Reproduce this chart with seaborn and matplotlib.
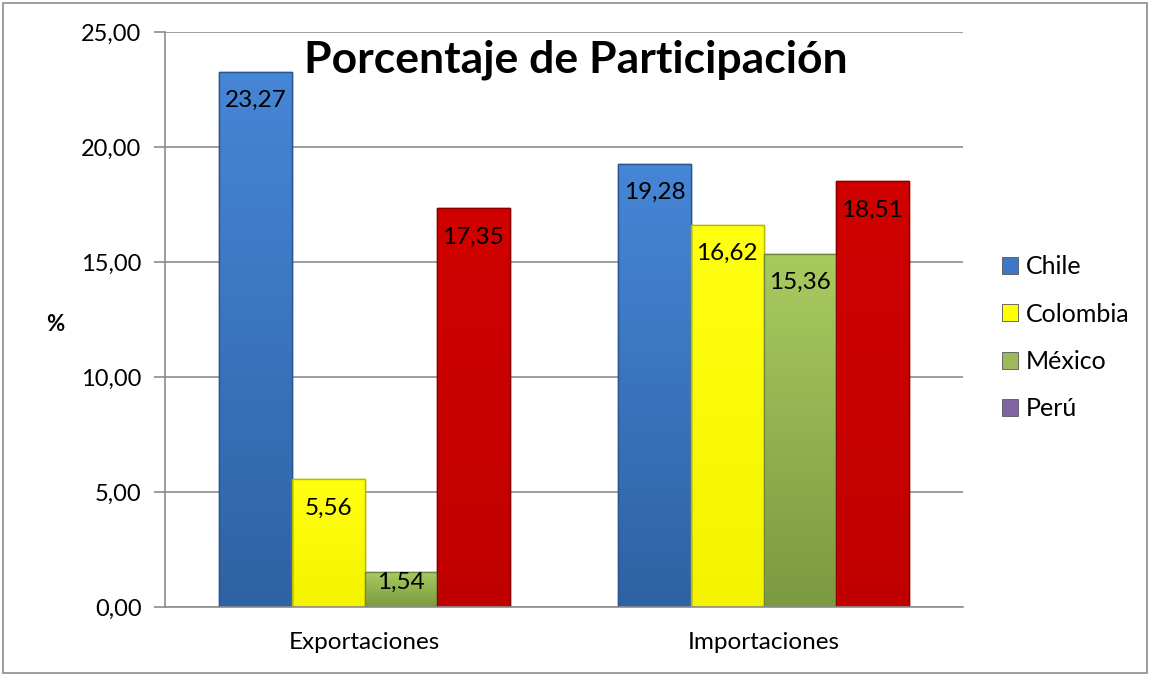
import numpy as np
import pandas as pd
import matplotlib
matplotlib.use("Agg")
import matplotlib.pyplot as plt
import seaborn as sns
from matplotlib.colors import LinearSegmentedColormap
from matplotlib.patches import Patch, Rectangle

# Data
categories = ["Exportaciones", "Importaciones"]
countries = ["Chile", "Colombia", "México", "Perú"]
chile = [23.27, 19.28]
colombia = [5.56, 16.62]
mexico = [1.54, 15.36]
peru = [17.35, 18.51]
y_ticks = [0, 5, 10, 15, 20, 25]

# Perú bars are red in the chart, but its legend key stays purple
bar_colors = ["#3C78C6", "#FFFF00", "#9BBB59", "#CC0000"]
top_colors = ["#4686D6", "#FFFF10", "#A8CB60", "#D00000"]
bottom_colors = ["#2F62A4", "#F4F400", "#7C9A40", "#C00000"]
edge_colors = ["#2A5590", "#B8B800", "#6E8A3A", "#8A0000"]
legend_colors = ["#3C78C6", "#FFFF00", "#9BBB59", "#8064A2"]

df = pd.DataFrame({
    "categoria": categories * 4,
    "pais": [c for c in countries for _ in categories],
    "valor": chile + colombia + mexico + peru,
})

sns.set_theme(style="white")
plt.rcParams["font.family"] = ["Lato", "DejaVu Sans"]
plt.rcParams["text.color"] = "black"
plt.rcParams["xtick.labelcolor"] = "black"
plt.rcParams["ytick.labelcolor"] = "black"

fig = plt.figure(figsize=(11.52, 6.75), dpi=100)
ax = fig.add_axes([165 / 1152, 1 - 607 / 675, 798 / 1152, 575 / 675])

sns.barplot(data=df, x="categoria", y="valor", hue="pais", hue_order=countries,
            palette=bar_colors, saturation=1, width=0.727, ax=ax, legend=False,
            errorbar=None)

ax.set_ylim(0, 25)
ax.set_xlim(-0.5, 1.5)

# vertical shading inside each bar, value labels near the top
grad = np.linspace(0, 1, 64).reshape(-1, 1)
for container, top, bot, ec in zip(ax.containers, top_colors, bottom_colors, edge_colors):
    cmap = LinearSegmentedColormap.from_list("bar", [bot, top])
    for patch, v in zip(container, container.datavalues):
        patch.set_edgecolor(ec)
        patch.set_linewidth(1.0)
        x0, w, h = patch.get_x(), patch.get_width(), patch.get_height()
        img = ax.imshow(grad, extent=[x0, x0 + w, 0, h], origin="lower", cmap=cmap,
                        aspect="auto", zorder=patch.get_zorder() + 0.1)
        img.set_clip_path(patch)
        ax.add_patch(Rectangle((x0, 0), w, h, fill=False, edgecolor=ec, linewidth=1.0,
                               zorder=patch.get_zorder() + 0.2))
        label_y = max(v - 1.26, 1.09)
        ax.text(x0 + w / 2, label_y, f"{v:.2f}".replace(".", ","), ha="center",
                va="center", fontsize=17.5, color="black", zorder=5)

ax.set_ylim(0, 25)
ax.set_xlim(-0.5, 1.5)
ax.set_yticks(y_ticks)
ax.set_yticklabels([f"{t:.2f}".replace(".", ",") for t in y_ticks], fontsize=17)
ax.tick_params(axis="x", labelsize=17.5, length=0, pad=18)
ax.set_xticks([-0.5, 0.5, 1.5], minor=True)
ax.tick_params(axis="x", which="minor", length=8, color="#8C8C8C", width=1.2, direction="out")
ax.tick_params(axis="y", length=8, color="#8C8C8C", width=1.2, direction="out", pad=9, left=True)
ax.set_xlabel("")
ax.set_ylabel("")

ax.yaxis.grid(True, color="#8C8C8C", lw=1.2)
ax.set_axisbelow(True)
for side in ["top", "right"]:
    ax.spines[side].set_visible(False)
for side in ["left", "bottom"]:
    ax.spines[side].set_color("#8C8C8C")
    ax.spines[side].set_linewidth(1.2)

fig.text(0.5, 1 - 60 / 675, "Porcentaje de Participación", ha="center", va="center",
         fontsize=32, fontweight="bold")
fig.text(55 / 1152, 1 - 325 / 675, "%", ha="center", va="center",
         fontsize=16, fontweight="bold")

handles = [Patch(facecolor=c, edgecolor="#555555", linewidth=0.6, label=n)
           for c, n in zip(legend_colors, countries)]
fig.legend(handles=handles, loc="upper left", bbox_to_anchor=(1002 / 1152, 1 - 255 / 675),
           frameon=False, fontsize=18, handlelength=0.65, handleheight=0.65,
           handletextpad=0.3, labelspacing=0.98, borderpad=0, borderaxespad=0)

# outer chart border
fig.patches.append(Rectangle((3 / 1152, 2 / 675), 1144 / 1152, 670 / 675,
                             transform=fig.transFigure, fill=False,
                             edgecolor="#8C8C8C", linewidth=1.2))

fig.savefig("out.png", dpi=100)
